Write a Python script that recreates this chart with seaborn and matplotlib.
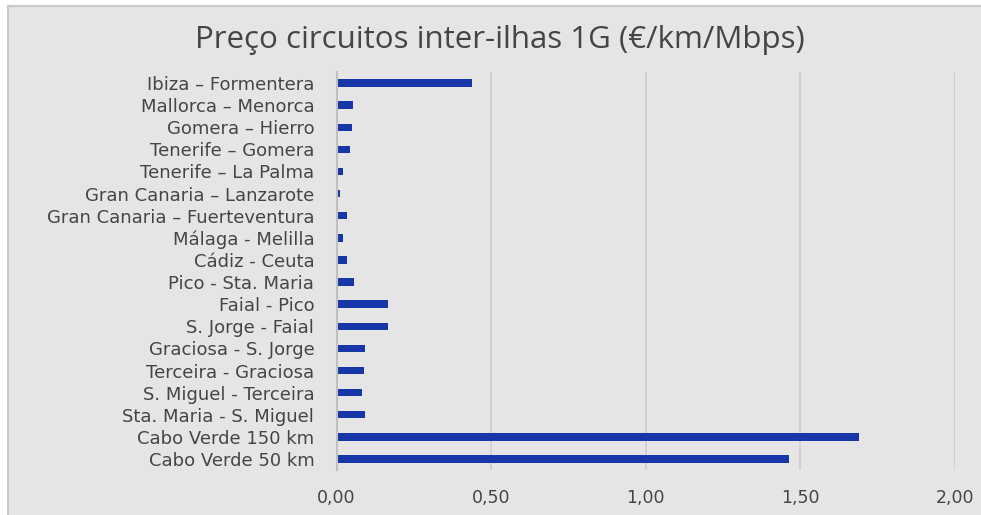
import matplotlib
matplotlib.use("Agg")
import matplotlib.pyplot as plt
import seaborn as sns
import pandas as pd
from matplotlib.patches import Rectangle
from matplotlib.ticker import FuncFormatter

routes = [
    "Ibiza – Formentera",
    "Mallorca – Menorca",
    "Gomera – Hierro",
    "Tenerife – Gomera",
    "Tenerife – La Palma",
    "Gran Canaria – Lanzarote",
    "Gran Canaria – Fuerteventura",
    "Málaga - Melilla",
    "Cádiz - Ceuta",
    "Pico - Sta. Maria",
    "Faial - Pico",
    "S. Jorge - Faial",
    "Graciosa - S. Jorge",
    "Terceira - Graciosa",
    "S. Miguel - Terceira",
    "Sta. Maria - S. Miguel",
    "Cabo Verde 150 km",
    "Cabo Verde 50 km",
]
prices = [0.439, 0.054, 0.050, 0.045, 0.020, 0.010, 0.033, 0.020, 0.035,
          0.058, 0.165, 0.167, 0.092, 0.090, 0.081, 0.091, 1.691, 1.462]
xticks = [0.0, 0.5, 1.0, 1.5, 2.0]
title = "Preço circuitos inter-ilhas 1G (€/km/Mbps)"

df = pd.DataFrame({"route": routes, "price": prices})

sns.set_theme(style="white")
plt.rcParams["font.family"] = ["Open Sans", "DejaVu Sans"]

BG = "#e5e5e5"
TXT = "#454545"
fig = plt.figure(figsize=(9.81, 5.15), dpi=100, facecolor="white")
bg = Rectangle((8/981, -0.01), 1.0, 1 - 6/515 + 0.01, transform=fig.transFigure,
               facecolor=BG, edgecolor="#c8c8c8", linewidth=1.5, zorder=-10)
fig.patches.append(bg)

ax = fig.add_axes([336.5/981, 1 - 470/515, (955 - 336.5)/981, (470 - 72)/515])
ax.set_facecolor("none")
sns.barplot(data=df, x="price", y="route", order=routes, orient="h",
            color="#1737a8", saturation=1, width=0.34, linewidth=0, ax=ax)

ax.set_xlim(0, 2.0)
ax.set_xticks(xticks)
ax.xaxis.set_major_formatter(FuncFormatter(lambda v, p: f"{v:.2f}".replace(".", ",")))
ax.grid(axis="x", color="#cccccc", linewidth=1.2)
ax.set_axisbelow(True)
for s in ["top", "right", "bottom"]:
    ax.spines[s].set_visible(False)
ax.spines["left"].set_color("#c0c0c0")
ax.spines["left"].set_linewidth(1.5)
ax.set_xlabel("")
ax.set_ylabel("")
ax.tick_params(axis="x", length=0, pad=14, labelsize=12.5, colors=TXT)
ax.tick_params(axis="y", length=0, pad=16, labelsize=13, colors=TXT)
for lab in ax.get_xticklabels() + ax.get_yticklabels():
    lab.set_family(["DejaVu Sans"])

fig.text(500/981, 1 - 40/515, title, ha="center", va="center", fontsize=22.5, color=TXT)

fig.savefig("out.png", dpi=100, facecolor="white")
